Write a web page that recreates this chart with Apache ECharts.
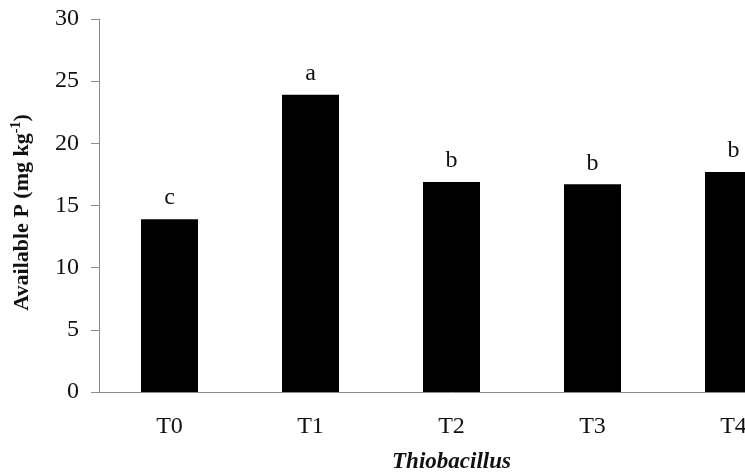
<!DOCTYPE html>
<html>
<head>
<meta charset="utf-8">
<script src="https://cdn.jsdelivr.net/npm/echarts@6/dist/echarts.min.js"></script>
<style>
  html, body { margin: 0; padding: 0; overflow: hidden; background: #fff; }
  #chart { width: 860px; height: 475px; }
</style>
</head>
<body>
<div id="chart"></div>
<script>
var treatments = ['T0', 'T1', 'T2', 'T3', 'T4'];
var availableP = [13.9, 23.9, 16.9, 16.7, 17.7];
var letters = ['c', 'a', 'b', 'b', 'b'];
var yTicks = [0, 5, 10, 15, 20, 25, 30];

var serif = '"Liberation Serif", "Times New Roman", Times, serif';
var myChart = echarts.init(document.getElementById('chart'));
var option = {
  backgroundColor: '#fff',
  animation: false,
  textStyle: { fontFamily: serif, color: '#111' },
  grid: {
    left: 99,
    top: 19,
    width: 705,
    height: 373,
    outerBoundsMode: 'none'
  },
  xAxis: {
    type: 'category',
    data: treatments,
    name: 'Thiobacillus',
    nameLocation: 'middle',
    nameGap: 59,
    nameTextStyle: { fontFamily: serif, fontSize: 23, fontStyle: 'italic', fontWeight: 'bold', color: '#111' },
    axisLine: { lineStyle: { color: '#8c8c8c', width: 1 } },
    axisTick: { length: 6, lineStyle: { color: '#8c8c8c' } },
    axisLabel: { margin: 23, fontSize: 24, fontFamily: serif, color: '#111' }
  },
  yAxis: {
    type: 'value',
    min: yTicks[0],
    max: yTicks[yTicks.length - 1],
    interval: 5,
    name: '{b|Available P (mg kg}{s|-1}{b|)}',
    nameLocation: 'middle',
    nameGap: 66,
    nameRotate: 90,
    nameTextStyle: {
      padding: [0, 14, 0, 0],
      rich: {
        b: { fontFamily: serif, fontSize: 22, fontWeight: 'bold', color: '#111', lineHeight: 24, verticalAlign: 'bottom' },
        s: { fontFamily: serif, fontSize: 14, fontWeight: 'bold', color: '#111', lineHeight: 24, verticalAlign: 'top', padding: [0, 0, 8, 0] }
      }
    },
    splitLine: { show: false },
    axisLine: { show: true, lineStyle: { color: '#8c8c8c', width: 1 } },
    axisTick: { show: true, length: 8, lineStyle: { color: '#8c8c8c' } },
    axisLabel: { margin: 20, fontSize: 24, fontFamily: serif, color: '#111' }
  },
  series: [
    {
      type: 'bar',
      data: availableP,
      barWidth: 57,
      itemStyle: { color: '#000' },
      label: {
        show: true,
        position: 'top',
        distance: 9,
        fontFamily: serif,
        fontSize: 24,
        color: '#111',
        formatter: function (p) { return letters[p.dataIndex]; }
      }
    }
  ]
};

myChart.setOption(option);
</script>
</body>
</html>
